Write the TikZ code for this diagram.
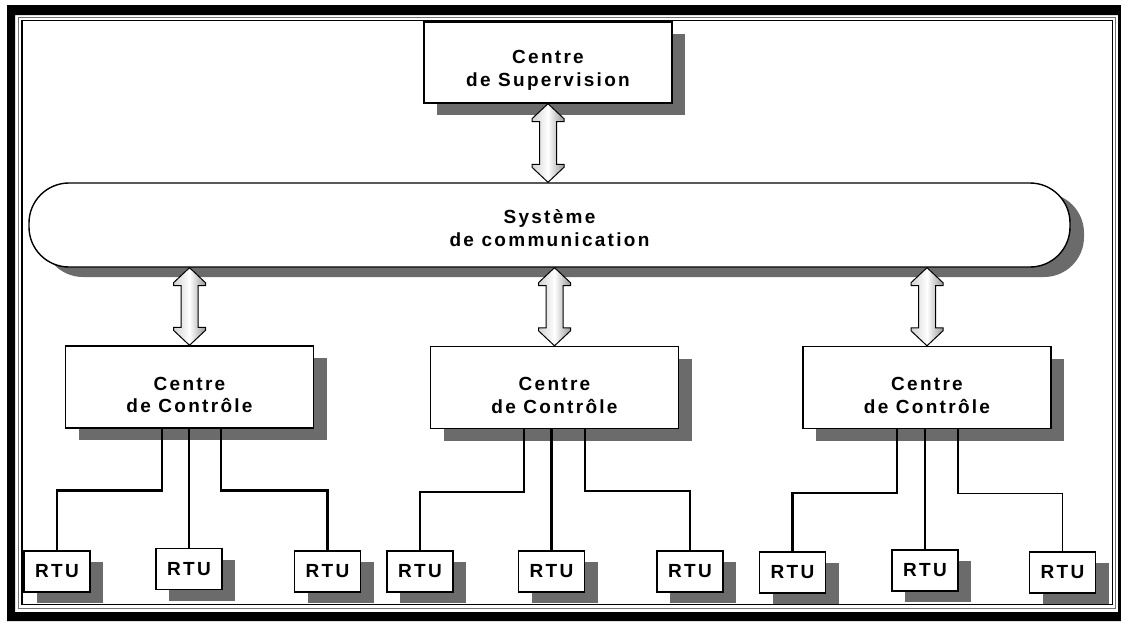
\documentclass[tikz,border=0pt]{standalone}
\usepackage{fontspec}
\newfontfamily\labfont[LetterSpace=12]{Liberation Sans}
\usetikzlibrary{calc,shadows}
\newcommand\dblarr[2]{%
  \draw[darrow] (#1) -- ($(#1)+(16,15)$) -- ($(#1)+(16,18)$) -- ($(#1)+(8.5,18)$)
    -- ($(#2)+(8.5,-18)$) -- ($(#2)+(16,-18)$) -- ($(#2)+(16,-15)$) -- (#2)
    -- ($(#2)+(-16,-15)$) -- ($(#2)+(-16,-18)$) -- ($(#2)+(-8.5,-18)$)
    -- ($(#1)+(-8.5,18)$) -- ($(#1)+(-16,18)$) -- ($(#1)+(-16,15)$) -- cycle;}
\begin{document}
\begin{tikzpicture}[x=1pt,y=-1pt,
  shad/.style={drop shadow={shadow xshift=13pt,shadow yshift=-12pt,fill=black!58,opacity=1}},
  box/.style={draw=black,line width=1.4pt,fill=white,minimum width=248pt,minimum height=82pt,inner sep=0pt,shad},
  busbox/.style={draw=black,line width=1.4pt,fill=white,minimum width=1041pt,minimum height=84pt,inner sep=0pt,rounded corners=40pt,
     drop shadow={shadow xshift=14pt,shadow yshift=-10pt,fill=black!58,opacity=1}},
  rtubox/.style={draw=black,line width=1.4pt,fill=white,minimum width=66pt,minimum height=41pt,inner sep=0pt,
     font=\labfont\bfseries\fontsize{19}{22.5}\selectfont,
     drop shadow={shadow xshift=13pt,shadow yshift=-11pt,fill=black!58,opacity=1}},
  txt/.style={font=\labfont\bfseries\fontsize{19}{22.5}\selectfont,align=center,inner sep=0pt},
  darrow/.style={draw=black,line width=1pt,line join=miter,left color=black!18,right color=black!40,middle color=white},
  wire/.style={line width=2.5pt,line join=miter},
  thinwire/.style={line width=1.2pt,line join=miter}]
\useasboundingbox (0,0) rectangle (1121,621);
% frame
\fill[black,even odd rule] (7,5) rectangle (1121,621) (15,15) rectangle (1118,612);
\draw[black!55,line width=0.9pt] (18.5,17.5) rectangle (1115.5,608.5);
\draw[black,line width=1.3pt] (22,20.5) rectangle (1112.5,604.5);
% boxes
\node[box,minimum width=248pt,minimum height=81pt] (sup) at (548,62.5) {};
\node[txt] (supt) at ($(sup.center)+(0,8)$) {Centre\\de Supervision};
\node[busbox] (bus) at (549.5,225) {};
\node[txt] (bust) at ($(bus.center)+(0,3)$) {Système\\de communication};
\node[box] (c1) at (189.5,387) {};
\node[box] (c2) at (554.5,387.5) {};
\node[box] (c3) at (927,387.5) {};
\node[txt] (c1t) at ($(c1.center)+(0,8)$) {Centre\\de Contrôle};
\node[txt] (c2t) at ($(c2.center)+(0,8)$) {Centre\\de Contrôle};
\node[txt] (c3t) at ($(c3.center)+(0,8)$) {Centre\\de Contrôle};
% RTUs
\node[rtubox] (r1) at (57,571.5) {RTU};
\node[rtubox] (r2) at (189,569) {RTU};
\node[rtubox] (r3) at (327.5,571.5) {RTU};
\node[rtubox] (r4) at (420,571.5) {RTU};
\node[rtubox] (r5) at (551.5,571.5) {RTU};
\node[rtubox] (r6) at (690,571.5) {RTU};
\node[rtubox] (r7) at (792.5,572.5) {RTU};
\node[rtubox] (r8) at (925,570.5) {RTU};
\node[rtubox] (r9) at (1062.5,572.5) {RTU};
% double arrows
\path (sup.south) coordinate (a0t) (sup.south |- bus.north) coordinate (a0b);
\path (c1.north |- bus.south) coordinate (a1t) (c1.north) coordinate (a1b);
\path (c2.north |- bus.south) coordinate (a2t) (c2.north) coordinate (a2b);
\path (c3.north |- bus.south) coordinate (a3t) (c3.north) coordinate (a3b);
\dblarr{a0t}{a0b}
\dblarr{a1t}{a1b}
\dblarr{a2t}{a2b}
\dblarr{a3t}{a3b}
% wires group 1
\draw[wire] ([xshift=-27.5pt]c1.south) -- ++(0,62) -| (r1.north);
\draw[wire] (r2.north |- c1.south) -- (r2.north);
\draw[wire] ([xshift=31.5pt]c1.south) -- ++(0,62) -| (r3.north);
% wires group 2
\draw[wire] ([xshift=-30.5pt]c2.south) -- ++(0,63) -| (r4.north);
\draw[wire] (r5.north |- c2.south) -- (r5.north);
\draw[wire] ([xshift=30.5pt]c2.south) -- ++(0,62) -| (r6.north);
% wires group 3
\draw[wire] ([xshift=-30pt]c3.south) -- ++(0,64) -| (r7.north);
\draw[wire] (r8.north |- c3.south) -- (r8.north);
\draw[thinwire] ([xshift=31pt]c3.south) -- ++(0,64) -| (r9.north);
\end{tikzpicture}
\end{document}
